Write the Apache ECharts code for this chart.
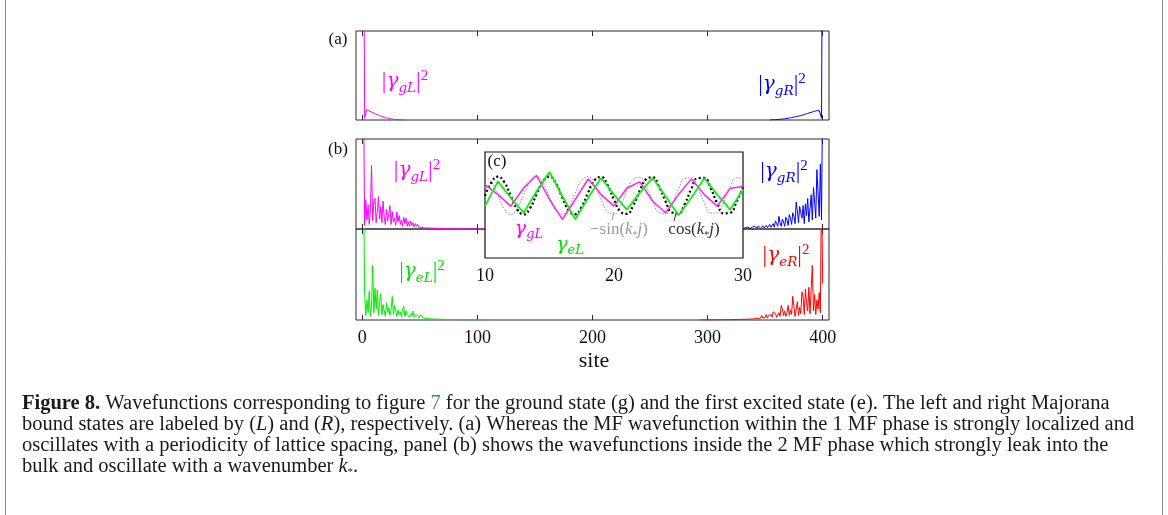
<!DOCTYPE html>
<html><head><meta charset="utf-8">
<script src="https://cdn.jsdelivr.net/npm/echarts@6/dist/echarts.min.js"></script>
<style>html,body{margin:0;padding:0;background:#fff}#c{width:1168px;height:515px}</style>
</head><body><div id="c"></div>
<script>
// ---------- data ----------
const siteTicks = [0, 100, 200, 300, 400];
const insetTicks = [10, 20, 30];

// (a) 1 MF phase: |gamma_gL|^2 for sites 1,2,3,...
const aGL = [3.0, 0.02, 0.07, 0.115, 0.12, 0.10, 0.115, 0.09, 0.10, 0.078, 0.085, 0.064, 0.07, 0.054, 0.058, 0.044, 0.047, 0.035, 0.038, 0.027, 0.03, 0.02, 0.022, 0.015, 0.016, 0.01, 0.011, 0.007, 0.007, 0.004, 0.004, 0.003, 0.002, 0.001, 0.001, 0];
// (a) |gamma_gR|^2 for sites 400,399,398,...
const aGR = [3.0, 0.02, 0.07, 0.105, 0.12, 0.105, 0.112, 0.098, 0.104, 0.09, 0.095, 0.082, 0.086, 0.074, 0.078, 0.066, 0.07, 0.058, 0.062, 0.05, 0.054, 0.044, 0.047, 0.038, 0.04, 0.032, 0.034, 0.027, 0.029, 0.022, 0.024, 0.018, 0.019, 0.014, 0.015, 0.011, 0.012, 0.008, 0.009, 0.006, 0.006, 0.004, 0.004, 0.003, 0.002, 0.001, 0];

// (b) 2 MF phase, ground state, left: sites 1,2,3,...
const bGL = [1.6, 0.04, 0.32, 0.10, 0.27, 0.05, 0.20, 0.71, 0.09, 0.30, 0.34, 0.07, 0.20, 0.36, 0.11, 0.25, 0.07, 0.31, 0.13, 0.05, 0.22, 0.09, 0.17, 0.26, 0.05, 0.19, 0.08, 0.12, 0.04, 0.19, 0.08, 0.15, 0.05, 0.10, 0.03, 0.13, 0.06, 0.12, 0.03, 0.08, 0.03, 0.09, 0.04, 0.07, 0.02, 0.06, 0.03, 0.055, 0.02, 0.04, 0.018, 0.035, 0.015, 0.03, 0.01, 0.028, 0.012, 0.025, 0.01, 0.02, 0.008, 0.02, 0.01, 0.018, 0.006, 0.016, 0.008, 0.015, 0.005, 0.013, 0.006, 0.012, 0.004, 0.011, 0.005, 0.01, 0.004, 0.009, 0.003, 0.008, 0.004, 0.007, 0.003, 0.007, 0.002, 0.006, 0.003, 0.005, 0.002, 0.005, 0.002, 0.004, 0.002, 0.004, 0.001, 0.003, 0.001, 0.003, 0.001, 0.002, 0.001, 0.002, 0.001, 0.002, 0.001, 0.001, 0.001, 0.001, 0, 0];
// (b) ground state, right: sites 400,399,...
const bGR = [1.6, 0.10, 0.72, 0.14, 0.40, 0.66, 0.12, 0.30, 0.46, 0.10, 0.38, 0.22, 0.08, 0.34, 0.15, 0.28, 0.06, 0.26, 0.12, 0.18, 0.25, 0.07, 0.20, 0.30, 0.06, 0.14, 0.18, 0.05, 0.12, 0.16, 0.04, 0.10, 0.13, 0.03, 0.08, 0.11, 0.03, 0.07, 0.14, 0.03, 0.06, 0.09, 0.02, 0.06, 0.07, 0.02, 0.05, 0.06, 0.015, 0.04, 0.05, 0.012, 0.035, 0.04, 0.01, 0.03, 0.035, 0.01, 0.025, 0.03, 0.008, 0.022, 0.025, 0.006, 0.02, 0.02, 0.005, 0.017, 0.018, 0.004, 0.015, 0.015, 0.004, 0.013, 0.012, 0.003, 0.011, 0.01, 0.003, 0.009, 0.009, 0.002, 0.008, 0.007, 0.002, 0.006, 0.006, 0.002, 0.005, 0.005, 0.001, 0.004, 0.004, 0.001, 0.003, 0.003, 0.001, 0.002, 0.002, 0.001, 0.002, 0.001, 0.001, 0.001, 0, 0];
// (b) first excited state, left: sites 1,2,3,...
const bEL = [1.6, 0.30, 0.05, 0.22, 0.08, 0.32, 0.04, 0.16, 0.60, 0.08, 0.35, 0.12, 0.33, 0.05, 0.20, 0.29, 0.06, 0.17, 0.10, 0.04, 0.19, 0.08, 0.14, 0.05, 0.12, 0.26, 0.06, 0.16, 0.15, 0.04, 0.11, 0.06, 0.09, 0.03, 0.12, 0.15, 0.04, 0.10, 0.06, 0.08, 0.03, 0.07, 0.04, 0.10, 0.03, 0.06, 0.04, 0.05, 0.02, 0.05, 0.03, 0.045, 0.02, 0.04, 0.015, 0.035, 0.02, 0.03, 0.012, 0.028, 0.012, 0.025, 0.01, 0.022, 0.008, 0.02, 0.01, 0.018, 0.007, 0.016, 0.008, 0.015, 0.006, 0.013, 0.006, 0.012, 0.005, 0.011, 0.005, 0.01, 0.004, 0.009, 0.004, 0.008, 0.003, 0.007, 0.003, 0.007, 0.003, 0.006, 0.002, 0.005, 0.002, 0.005, 0.002, 0.004, 0.002, 0.004, 0.001, 0.003, 0.001, 0.003, 0.001, 0.002, 0.001, 0.002, 0.001, 0.001, 0, 0];
// (b) first excited state, right: sites 400,399,...
const bER = [0.40, 1.6, 0.08, 0.30, 0.12, 0.22, 0.06, 0.28, 0.10, 0.60, 0.33, 0.07, 0.36, 0.10, 0.18, 0.34, 0.06, 0.25, 0.31, 0.07, 0.14, 0.05, 0.20, 0.12, 0.04, 0.15, 0.26, 0.06, 0.11, 0.05, 0.16, 0.08, 0.04, 0.10, 0.05, 0.12, 0.16, 0.04, 0.08, 0.06, 0.03, 0.07, 0.05, 0.09, 0.03, 0.06, 0.04, 0.05, 0.02, 0.06, 0.03, 0.04, 0.02, 0.05, 0.02, 0.035, 0.015, 0.03, 0.02, 0.028, 0.012, 0.025, 0.01, 0.022, 0.01, 0.02, 0.008, 0.018, 0.008, 0.016, 0.007, 0.015, 0.006, 0.014, 0.006, 0.012, 0.005, 0.011, 0.005, 0.01, 0.004, 0.009, 0.004, 0.008, 0.003, 0.007, 0.003, 0.006, 0.003, 0.005, 0.002, 0.005, 0.002, 0.004, 0.002, 0.004, 0.001, 0.003, 0.001, 0.003, 0.001, 0.002, 0.001, 0.002, 0.001, 0.001, 0, 0];

// (c) inset: wavefunctions at sites j = 10..30
const insetJ = [10, 11, 12, 13, 14, 15, 16, 17, 18, 19, 20, 21, 22, 23, 24, 25, 26, 27, 28, 29, 30];
const insetGL = [0.58, 0.05, -0.56, 0.40, 1.07, -0.21, -1.26, -0.21, 0.88, 0.05, -0.56, 0.40, 0.72, -0.30, -0.91, 0.05, 0.88, 0.05, -0.56, 0.37, 0.49];
const insetEL = [-0.56, 0.75, -0.12, -0.91, 0.23, 1.25, -0.04, -1.26, -0.12, 0.93, 0.05, -0.74, 0.14, 0.93, -0.04, -1.04, -0.12, 0.93, 0.05, -0.74, 0.32];
const curveJ = [10, 10.5, 11, 11.5, 12, 12.5, 13, 13.5, 14, 14.5, 15, 15.5, 16, 16.5, 17, 17.5, 18, 18.5, 19, 19.5, 20, 20.5, 21, 21.5, 22, 22.5, 23, 23.5, 24, 24.5, 25, 25.5, 26, 26.5, 27, 27.5, 28, 28.5, 29, 29.5, 30];
const cosK = [-0.02, 0.70, 1.00, 0.70, -0.02, -0.73, -1.00, -0.66, 0.07, 0.76, 1.00, 0.63, -0.12, -0.79, -0.99, -0.59, 0.17, 0.82, 0.98, 0.55, -0.22, -0.85, -0.97, -0.51, 0.26, 0.87, 0.96, 0.46, -0.31, -0.90, -0.94, -0.42, 0.36, 0.92, 0.93, 0.37, -0.40, -0.94, -0.91, -0.33, 0.45];
const negSinK = [1.00, 0.72, 0.00, -0.72, -1.00, -0.68, 0.05, 0.75, 1.00, 0.65, -0.10, -0.78, -0.99, -0.61, 0.14, 0.81, 0.99, 0.57, -0.19, -0.84, -0.98, -0.53, 0.24, 0.86, 0.96, 0.48, -0.29, -0.89, -0.95, -0.44, 0.33, 0.91, 0.93, 0.40, -0.38, -0.93, -0.92, -0.35, 0.42, 0.94, 0.89];

const captionLines = [
  '{b|Figure 8.} Wavefunctions corresponding to figure {c|7} for the ground state (g) and the first excited state (e). The left and right Majorana',
  'bound states are labeled by ({i|L}) and ({i|R}), respectively. (a) Whereas the MF wavefunction within the 1 MF phase is strongly localized and',
  'oscillates with a periodicity of lattice spacing, panel (b) shows the wavefunctions inside the 2 MF phase which strongly leak into the',
  'bulk and oscillate with a wavenumber {i|k}{st|*}.'
];

// ---------- build ----------
const fromLeft = arr => arr.map((v, i) => [i + 1, v]);
const fromRight = arr => arr.map((v, i) => [400 - i, v]);
const pair = (xs, ys) => xs.map((x, i) => [x, ys[i]]);

const SERIF = '"Liberation Serif","DejaVu Serif",serif';
const MATH = '"DejaVu Serif",serif';
const AX = '#2b2b2b';
const MAIN = {left: 356, width: 473};
const CAP = 20.5;

function mainX(gi, pos, label) {
  return {
    type: 'value', gridIndex: gi, position: pos, min: -5.5, max: 405.5,
    axisLine: {show: false}, splitLine: {show: false},
    axisTick: {show: true, inside: true, length: 5, lineStyle: {color: AX, width: 1}, customValues: siteTicks},
    axisLabel: {show: label, customValues: siteTicks, fontFamily: SERIF, fontSize: 18, color: '#111', margin: 9}
  };
}
function line(data, color, xi, yi, extra) {
  return Object.assign({
    type: 'line', data, xAxisIndex: xi, yAxisIndex: yi, symbol: 'none', showSymbol: false,
    lineStyle: {color, width: 1}, itemStyle: {color}, clip: true, silent: true, animation: false, z: 2
  }, extra || {});
}
function absLabel(sub, color, x, y) {
  return {
    type: 'text', x, y, z: 30,
    style: {
      text: '{n||}{g|γ}{s|' + sub + '}{n||}{p|2}', align: 'center', verticalAlign: 'middle', fill: color,
      rich: {
        n: {fontFamily: SERIF, fontSize: 23, fill: color, lineHeight: 26},
        g: {fontFamily: MATH, fontStyle: 'italic', fontSize: 20, fill: color, lineHeight: 26},
        s: {fontFamily: MATH, fontStyle: 'italic', fontSize: 13.5, fill: color, verticalAlign: 'bottom', lineHeight: 14},
        p: {fontFamily: SERIF, fontSize: 15, fill: color, verticalAlign: 'top', lineHeight: 14}
      }
    }
  };
}
function gLabel(sub, color, x, y) {
  return {
    type: 'text', x, y, z: 30,
    style: {
      text: '{g|γ}{s|' + sub + '}', align: 'center', verticalAlign: 'middle', fill: color,
      rich: {
        g: {fontFamily: MATH, fontStyle: 'italic', fontSize: 19, fill: color, lineHeight: 24},
        s: {fontFamily: MATH, fontStyle: 'italic', fontSize: 13, fill: color, verticalAlign: 'bottom', lineHeight: 13}
      }
    }
  };
}
function fnLabel(pre, color, x, y) {
  return {
    type: 'text', x, y, z: 30,
    style: {
      text: '{n|' + pre + '(}{i|k}{s|*}{i|j}{n|)}', align: 'center', verticalAlign: 'middle', fill: color,
      rich: {
        n: {fontFamily: SERIF, fontSize: 17, fill: color, lineHeight: 20},
        i: {fontFamily: SERIF, fontStyle: 'italic', fontSize: 17, fill: color, lineHeight: 20},
        s: {fontFamily: SERIF, fontSize: 10, fill: color, verticalAlign: 'bottom', lineHeight: 12}
      }
    }
  };
}
function plain(text, x, y, size, align) {
  return {type: 'text', x, y, z: 30, style: {text, fontFamily: SERIF, fontSize: size, fill: '#111', align: align || 'center', verticalAlign: 'middle'}};
}

const capRich = {
  b: {fontFamily: SERIF, fontSize: CAP, fontWeight: 'bold', fill: '#1a1a1a'},
  c: {fontFamily: SERIF, fontSize: CAP, fill: '#2e86c1'},
  i: {fontFamily: SERIF, fontSize: CAP, fontStyle: 'italic', fill: '#1a1a1a'},
  st: {fontFamily: SERIF, fontSize: 11, fill: '#1a1a1a', verticalAlign: 'bottom', lineHeight: 13}
};
const captionEls = captionLines.map((t, k) => ({
  type: 'text', x: 22, y: 404 + k * 21, z: 30,
  style: {text: t, fontFamily: SERIF, fontSize: CAP, fill: '#1a1a1a', align: 'left', verticalAlign: 'middle', rich: capRich}
}));

const option = {
  backgroundColor: '#fff',
  animation: false,
  grid: [
    Object.assign({top: 31, height: 89, show: true, borderColor: AX, borderWidth: 1, backgroundColor: 'transparent', z: 0}, MAIN),
    Object.assign({top: 139, height: 90, show: true, borderColor: AX, borderWidth: 1, backgroundColor: 'transparent', z: 0}, MAIN),
    Object.assign({top: 229, height: 91, show: true, borderColor: AX, borderWidth: 1, backgroundColor: 'transparent', z: 0}, MAIN),
    {left: 485, top: 152, width: 258, height: 106, show: true, borderColor: '#111', borderWidth: 1.2, backgroundColor: '#fff', z: 10}
  ],
  xAxis: [
    mainX(0, 'bottom', false), mainX(0, 'top', false),
    mainX(1, 'bottom', false), mainX(1, 'top', false),
    mainX(2, 'bottom', true), mainX(2, 'top', false),
    {type: 'value', gridIndex: 3, min: 10, max: 30, interval: 10, z: 12,
     axisLine: {show: false}, axisTick: {show: false}, splitLine: {show: false},
     axisLabel: {customValues: insetTicks, showMinLabel: true, showMaxLabel: true, fontFamily: SERIF, fontSize: 18, color: '#111', margin: 9}}
  ],
  yAxis: [
    {type: 'value', gridIndex: 0, min: 0, max: 1, show: false},
    {type: 'value', gridIndex: 1, min: 0, max: 1, show: false},
    {type: 'value', gridIndex: 2, min: 0, max: 1, show: false},
    {type: 'value', gridIndex: 3, min: -3.3, max: 2.3, show: false}
  ],
  series: [
    line(fromLeft(aGL), '#ff00ff', 0, 0),
    line(fromRight(aGR), '#0000ff', 0, 0),
    line(fromLeft(bGL), '#ff00ff', 2, 1),
    line(fromRight(bGR), '#0000ff', 2, 1),
    line(fromLeft(bEL), '#00ee00', 4, 2),
    line(fromRight(bER), '#ff0000', 4, 2),
    line(pair(curveJ, negSinK), '#8f8f8f', 6, 3, {smooth: true, z: 11, lineStyle: {color: '#8f8f8f', width: 1, type: [1.5, 1.5]}}),
    line(pair(curveJ, cosK), '#000', 6, 3, {smooth: true, z: 11, lineStyle: {color: '#000', width: 2.2, type: [2, 2.5]}}),
    line(pair(insetJ, insetGL), '#ff00ff', 6, 3, {z: 11, lineStyle: {color: '#ff22ff', width: 1.5}}),
    line(pair(insetJ, insetEL), '#11ee11', 6, 3, {z: 11, lineStyle: {color: '#11ee11', width: 1.8}})
  ],
  graphic: {elements: [
    {type: 'line', shape: {x1: 5.5, y1: 0, x2: 5.5, y2: 515}, style: {stroke: '#8a8a8a', lineWidth: 1}, z: 30},
    {type: 'line', shape: {x1: 1162.5, y1: 0, x2: 1162.5, y2: 515}, style: {stroke: '#8a8a8a', lineWidth: 1}, z: 30},
    plain('(a)', 338, 40, 17), plain('(b)', 338, 150, 17), plain('(c)', 497, 162, 17),
    plain('site', 594, 361, 22),
    absLabel('gL', '#ff00ff', 405, 82),
    absLabel('gR', '#0000ff', 782, 85),
    absLabel('gL', '#ff00ff', 417, 171),
    absLabel('gR', '#0000ff', 784, 172),
    absLabel('eL', '#00dd00', 422, 272),
    absLabel('eR', '#ff0000', 786, 256),
    gLabel('gL', '#ff00ff', 529, 229),
    gLabel('eL', '#00dd00', 570, 245),
    fnLabel('−sin', '#9a9a9a', 619, 230),
    fnLabel('cos', '#333', 694, 230),
    {type: 'line', shape: {x1: 614, y1: 212, x2: 612, y2: 220}, style: {stroke: '#9a9a9a', lineWidth: 1}, z: 30},
    {type: 'line', shape: {x1: 676, y1: 213, x2: 674, y2: 221}, style: {stroke: '#333', lineWidth: 1}, z: 30}
  ].concat(captionEls)}
};

const chart = echarts.init(document.getElementById('c'), null, {renderer: 'canvas'});
chart.setOption(option);
</script>
</body></html>
